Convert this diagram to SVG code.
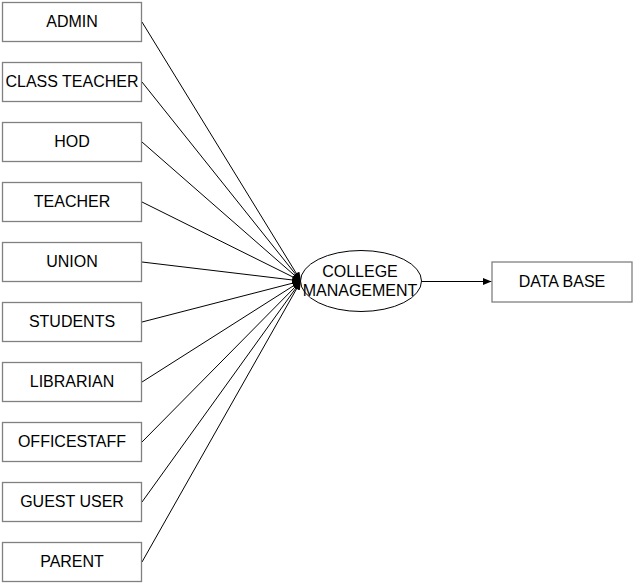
<svg xmlns="http://www.w3.org/2000/svg" width="635" height="585" viewBox="0 0 635 585">
<defs>
<marker id="ah" viewBox="0 0 10 8" refX="10" refY="4" markerWidth="9" markerHeight="7" markerUnits="userSpaceOnUse" orient="auto">
<path d="M0,0 L10,4 L0,8 Z" fill="#000"/>
</marker>
<style>
.box{fill:#fff;stroke:#808080;stroke-width:1.3}
.t{font-family:"Liberation Sans",Arial,sans-serif;font-size:16px;fill:#000;text-anchor:middle}
.c{stroke:#000;stroke-width:1;fill:none;marker-end:url(#ah)}
</style>
</defs>
<rect width="635" height="585" fill="#fff"/>
<g id="connectors">
<line class="c" x1="142" y1="22" x2="301" y2="281"/>
<line class="c" x1="142" y1="82" x2="301" y2="281"/>
<line class="c" x1="142" y1="142" x2="301" y2="281"/>
<line class="c" x1="142" y1="202" x2="301" y2="281"/>
<line class="c" x1="142" y1="262" x2="301" y2="281"/>
<line class="c" x1="142" y1="322" x2="301" y2="281"/>
<line class="c" x1="142" y1="382" x2="301" y2="281"/>
<line class="c" x1="142" y1="442" x2="301" y2="281"/>
<line class="c" x1="142" y1="502" x2="301" y2="281"/>
<line class="c" x1="142" y1="562" x2="301" y2="281"/>
<line class="c" x1="422" y1="281.5" x2="491.5" y2="281.5"/>
</g>
<g id="admin"><rect class="box" x="2.5" y="2.5" width="139" height="39"/><text class="t" x="72" y="27">ADMIN</text></g>
<g id="class-teacher"><rect class="box" x="2.5" y="62.5" width="139" height="39"/><text class="t" x="72" y="87">CLASS TEACHER</text></g>
<g id="hod"><rect class="box" x="2.5" y="122.5" width="139" height="39"/><text class="t" x="72" y="147">HOD</text></g>
<g id="teacher"><rect class="box" x="2.5" y="182.5" width="139" height="39"/><text class="t" x="72" y="207">TEACHER</text></g>
<g id="union"><rect class="box" x="2.5" y="242.5" width="139" height="39"/><text class="t" x="72" y="267">UNION</text></g>
<g id="students"><rect class="box" x="2.5" y="302.5" width="139" height="39"/><text class="t" x="72" y="327">STUDENTS</text></g>
<g id="librarian"><rect class="box" x="2.5" y="362.5" width="139" height="39"/><text class="t" x="72" y="387">LIBRARIAN</text></g>
<g id="officestaff"><rect class="box" x="2.5" y="422.5" width="139" height="39"/><text class="t" x="72" y="447">OFFICESTAFF</text></g>
<g id="guest-user"><rect class="box" x="2.5" y="482.5" width="139" height="39"/><text class="t" x="72" y="507">GUEST USER</text></g>
<g id="parent"><rect class="box" x="2.5" y="542.5" width="139" height="39"/><text class="t" x="72" y="567">PARENT</text></g>
<g id="college-management">
<ellipse cx="361" cy="281" rx="60.5" ry="30.5" fill="#fff" stroke="#000" stroke-width="1"/>
<text class="t" x="360" y="277">COLLEGE</text>
<text class="t" x="360" y="296">MANAGEMENT</text>
</g>
<g id="data-base"><rect class="box" x="492" y="262" width="140" height="40"/><text class="t" x="562" y="287">DATA BASE</text></g>
</svg>
